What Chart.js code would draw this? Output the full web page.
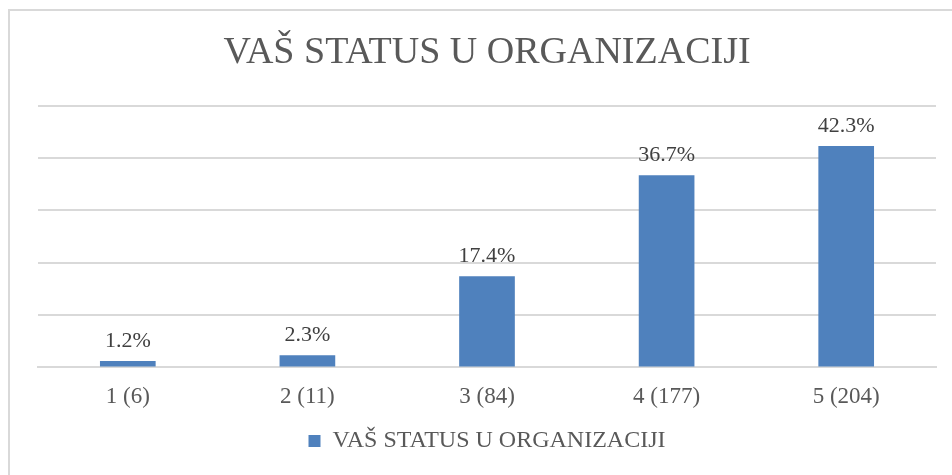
<!DOCTYPE html>
<html>
<head>
<meta charset="utf-8">
<script src="https://cdn.jsdelivr.net/npm/chart.js@4"></script>
<style>
  html, body { margin: 0; padding: 0; background: #fff; }
  #wrap { position: relative; width: 952px; height: 475px; overflow: hidden; }
  #frame { position: absolute; left: 8px; top: 9px; width: 1000px; height: 500px; border: 2px solid #d9d9d9; box-sizing: border-box; }
  canvas { position: absolute; left: 0; top: 0; }
</style>
</head>
<body>
<div id="wrap">
  <div id="frame"></div>
  <canvas id="chart" width="952" height="475"></canvas>
</div>
<script>
const categories = ['1 (6)', '2 (11)', '3 (84)', '4 (177)', '5 (204)'];
const percentages = [1.2, 2.3, 17.4, 36.7, 42.3];
const seriesName = 'VAŠ STATUS U ORGANIZACIJI';
const serif = '"Liberation Serif", "Times New Roman", serif';

// labels above each bar
const barLabels = {
  id: 'barLabels',
  afterDatasetsDraw(chart) {
    const ctx = chart.ctx;
    ctx.save();
    ctx.font = '22px ' + serif;
    ctx.fillStyle = '#404040';
    ctx.textAlign = 'center';
    ctx.textBaseline = 'bottom';
    chart.getDatasetMeta(0).data.forEach((bar, i) => {
      ctx.fillText(percentages[i].toFixed(1) + '%', bar.x, bar.y - 9);
    });
    ctx.restore();
  }
};

new Chart(document.getElementById('chart'), {
  type: 'bar',
  data: {
    labels: categories,
    datasets: [{
      label: seriesName,
      data: percentages,
      backgroundColor: '#4f81bd',
      categoryPercentage: 0.31,
      barPercentage: 1
    }]
  },
  plugins: [barLabels],
  options: {
    responsive: false,
    animation: false,
    layout: { padding: { left: 38, right: 16, top: 0, bottom: 12 } },
    plugins: {
      title: {
        display: true,
        text: seriesName,
        color: '#595959',
        font: { family: serif, size: 38, weight: 'normal' },
        padding: { top: 30, bottom: 30 }
      },
      legend: {
        position: 'bottom',
        labels: {
          color: '#595959',
          font: { family: serif, size: 24 },
          boxWidth: 12,
          boxHeight: 12,
          padding: 10
        }
      },
      tooltip: { enabled: false }
    },
    scales: {
      x: {
        grid: { display: false },
        border: { color: '#d9d9d9', width: 2 },
        ticks: { color: '#595959', font: { family: serif, size: 23 }, padding: 8 }
      },
      y: {
        min: 0,
        max: 50,
        ticks: { display: false, stepSize: 10 },
        border: { display: false },
        grid: { color: '#d9d9d9', lineWidth: 2, drawTicks: false }
      }
    }
  }
});
</script>
</body>
</html>
